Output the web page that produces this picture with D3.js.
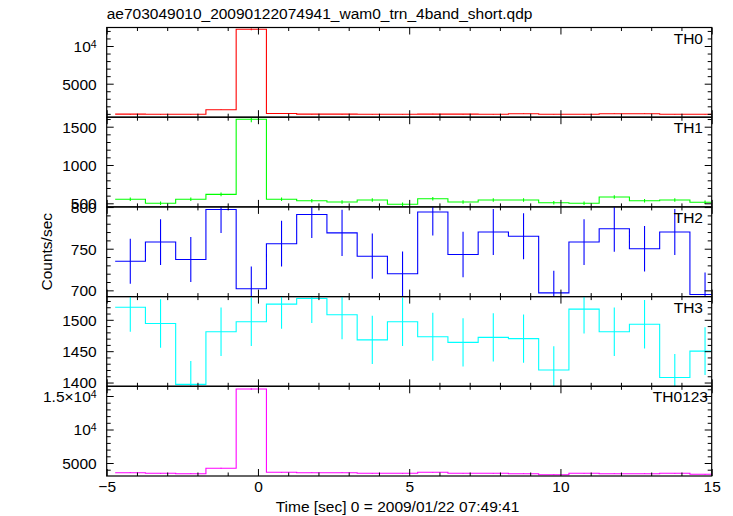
<!DOCTYPE html>
<html><head><meta charset="utf-8">
<script src="https://cdn.jsdelivr.net/npm/d3@7"></script>
<style>
body{margin:0;background:#fff}
svg{display:block}
text{font-family:"Liberation Sans",Arial,Helvetica,sans-serif;fill:#000}
</style>
</head><body>
<svg id="c" width="733" height="516"></svg>
<script>
const title = "ae703049010_20090122074941_wam0_trn_4band_short.qdp";
const xLabel = "Time [sec] 0 = 2009/01/22 07:49:41";
const yLabel = "Counts/sec";

const timeCenters = [-4.22,-3.22,-2.22,-1.22,-0.22,0.78,1.78,2.78,3.78,4.78,5.78,6.78,7.78,8.78,9.78,10.78,11.78,12.78,13.78,14.78];
const binHalf = 0.5;

const panelNames = ["TH0","TH1","TH2","TH3","TH0123"];
const panelColors = ["#ff0000","#00ff00","#0000ff","#00ffff","#ff00ff"];

const th0 = [960,950,950,1550,12215,1040,960,960,950,950,970,960,950,1010,940,950,1010,1010,950,940];
const th0Err = [31,31,31,39,111,32,31,31,31,31,31,31,31,32,31,31,32,32,31,31];
const th1 = [552,500,552,617,1597,552,534,517,543,487,560,517,543,543,508,500,582,534,543,513];
const th1Err = [23.5,22.4,23.5,24.8,40.0,23.5,23.1,22.7,23.3,22.1,23.7,22.7,23.3,23.3,22.5,22.4,24.1,23.1,23.3,22.6];
const th2 = [735,758,737,797,702,756,791,769,741,720,794,743,770,765,697,758,774,750,770,695];
const th2Err = [27.1,27.5,27.1,28.2,26.5,27.5,28.1,27.7,27.2,26.8,28.2,27.3,27.7,27.7,26.4,27.5,27.8,27.4,27.7,26.4];
const th3 = [1520,1494,1397,1481,1497,1525,1534,1508,1468,1497,1473,1464,1472,1470,1420,1517,1481,1493,1408,1450];
const th3Err = [39.0,38.7,37.4,38.5,38.7,39.1,39.2,38.8,38.3,38.7,38.4,38.3,38.4,38.3,37.7,38.9,38.5,38.6,37.5,38.1];
const th0123 = [3552,3463,3403,4209,16045,3612,3552,3552,3463,3463,3612,3463,3463,3403,3254,3463,3403,3403,3463,3313];
const th0123Err = [60,59,58,65,127,60,60,60,59,59,60,59,59,58,57,59,58,58,59,58];

const xDomain = [-5, 15];
const xMajorTicks = [-5, 0, 5, 10, 15];
const xTickLabels = ["\u22125", "0", "5", "10", "15"];
const xMinorStep = 1;

const yDomains = [[557,12454],[453,1624],[692.5,800.2],[1394,1537],[3060,16450]];
const yMajorTicks = [[5000,10000],[500,1000,1500],[700,750,800],[1400,1450,1500],[5000,10000,15000]];
const yMajorLabels = [["5000","10^4"],["500","1000","1500"],["700","750","800"],["1400","1450","1500"],["5000","10^4","1.5\u00d710^4"]];
const yMinorSteps = [1000,100,10,10,1000];

const allValues = [th0, th1, th2, th3, th0123];
const allErrs = [th0Err, th1Err, th2Err, th3Err, th0123Err];

const panels = panelNames.map((name, i) => ({
  name, color: panelColors[i], values: allValues[i], errs: allErrs[i],
  domain: yDomains[i], major: yMajorTicks[i], labels: yMajorLabels[i], minorStep: yMinorSteps[i]
}));

const svg = d3.select("#c");
const L = 106.7, R = 711.7, T0 = 27.5, PH = 89.7;
const FS = 15.5;
const x = d3.scaleLinear().domain(xDomain).range([L, R]);

const xMinor = d3.range(xDomain[0], xDomain[1] + 1e-9, xMinorStep).filter(v => !xMajorTicks.includes(v));

function setSup(sel) {
  sel.each(function() {
    const t = d3.select(this);
    const s = t.text();
    if (s.includes("^")) {
      const [base, sup] = s.split("^");
      t.text(null);
      t.append("tspan").text(base);
      t.append("tspan").attr("dy", "-0.42em").attr("font-size", "0.68em").text(sup);
    }
  });
}

const defs = svg.append("defs");

panels.forEach((p, i) => {
  const top = T0 + i * PH, bot = top + PH;
  const y = d3.scaleLinear().domain(p.domain).range([bot, top]);
  const cid = "clip" + i;
  defs.append("clipPath").attr("id", cid).append("rect")
    .attr("x", L).attr("y", top).attr("width", R - L).attr("height", PH);

  const data = p.values.map((v, k) => ({t: timeCenters[k], v, e: p.errs[k]}));
  const pts = [];
  data.forEach(d => { pts.push([d.t - binHalf, d.v]); pts.push([d.t + binHalf, d.v]); });

  const g = svg.append("g");
  const pg = g.append("g").attr("clip-path", `url(#${cid})`);
  pg.append("path")
    .attr("d", d3.line().x(d => x(d[0])).y(d => y(d[1]))(pts))
    .attr("fill", "none").attr("stroke", p.color).attr("stroke-width", 1.1);
  pg.selectAll("line.err").data(data).join("line").attr("class", "err")
    .attr("x1", d => x(d.t)).attr("x2", d => x(d.t))
    .attr("y1", d => y(d.v - d.e)).attr("y2", d => y(d.v + d.e))
    .attr("stroke", p.color).attr("stroke-width", 1.1);

  // y minor ticks
  const d0 = Math.min(...p.domain), d1 = Math.max(...p.domain);
  const yMinor = d3.range(Math.ceil(d0 / p.minorStep) * p.minorStep, d1 + 1e-9, p.minorStep)
    .filter(v => !p.major.includes(v));

  const styleAxis = a => { a.select(".domain").remove(); a.selectAll("line").attr("stroke", "#000"); a.attr("font-family", null).attr("font-size", null); };

  g.append("g").attr("transform", `translate(${L},0)`)
    .call(d3.axisLeft(y).tickValues(yMinor).tickSize(-4).tickFormat(""))
    .call(styleAxis);
  g.append("g").attr("transform", `translate(${R},0)`)
    .call(d3.axisRight(y).tickValues(yMinor).tickSize(-4).tickFormat(""))
    .call(styleAxis);
  g.append("g").attr("transform", `translate(${R},0)`)
    .call(d3.axisRight(y).tickValues(p.major).tickSize(-7).tickFormat(""))
    .call(styleAxis);
  const ya = g.append("g").attr("transform", `translate(${L},0)`)
    .call(d3.axisLeft(y).tickValues(p.major).tickSize(-7).tickPadding(10)
      .tickFormat((d, j) => p.labels[j]))
    .call(styleAxis);
  ya.selectAll("text").attr("font-size", FS).attr("dy", "0.35em").call(setSup);

  // x ticks top and bottom
  [[top, d3.axisTop], [bot, d3.axisBottom]].forEach(([yy, ax]) => {
    g.append("g").attr("transform", `translate(0,${yy})`)
      .call(ax(x).tickValues(xMinor).tickSize(-3.5).tickFormat(""))
      .call(styleAxis);
  });
  g.append("g").attr("transform", `translate(0,${top})`)
    .call(d3.axisTop(x).tickValues(xMajorTicks).tickSize(-7).tickFormat(""))
    .call(styleAxis);
  const xb = g.append("g").attr("transform", `translate(0,${bot})`)
    .call(d3.axisBottom(x).tickValues(xMajorTicks).tickSize(-7).tickPadding(4.5)
      .tickFormat((d, j) => i === panels.length - 1 ? xTickLabels[j] : ""))
    .call(styleAxis);
  xb.selectAll("text").attr("font-size", FS);

  // frame
  g.append("rect").attr("x", L).attr("y", top).attr("width", R - L).attr("height", PH)
    .attr("fill", "none").attr("stroke", "#000").attr("stroke-width", 1.2);

  // panel name
  g.append("text").attr("x", i === panels.length - 1 ? 708 : 703).attr("y", top + 16)
    .attr("text-anchor", "end").attr("font-size", FS).text(p.name);
});

svg.append("text").attr("x", L).attr("y", 19).attr("font-size", FS).text(title);
svg.append("text").attr("x", 397.5).attr("y", 511.5).attr("text-anchor", "middle").attr("font-size", FS).text(xLabel);
svg.append("text").attr("transform", `translate(52,${(T0 + T0 + 5 * PH) / 2}) rotate(-90)`)
  .attr("text-anchor", "middle").attr("font-size", FS).text(yLabel);
</script>
</body></html>
